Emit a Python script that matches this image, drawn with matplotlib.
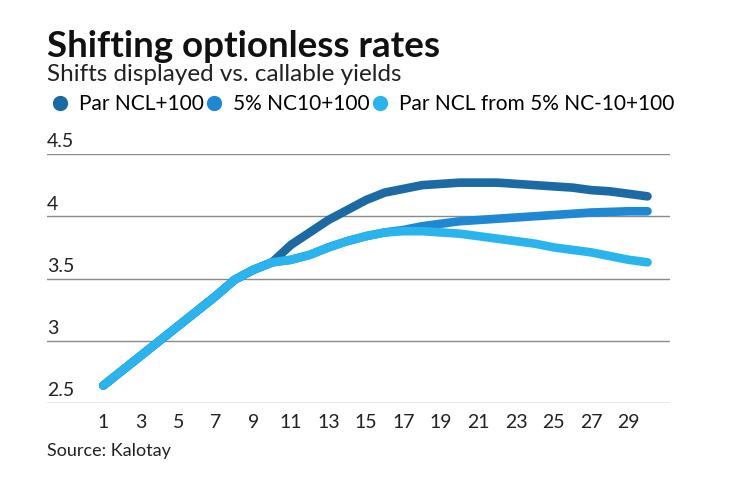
import matplotlib.pyplot as plt
from matplotlib.lines import Line2D

plt.rcParams['font.family'] = ['Lato', 'DejaVu Sans']

# Data
years = list(range(1, 31))
par_ncl = [2.64, 2.76, 2.88, 3.00, 3.12, 3.24, 3.36, 3.49, 3.57, 3.63,
           3.77, 3.87, 3.97, 4.05, 4.13, 4.19, 4.22, 4.25, 4.26, 4.27,
           4.27, 4.27, 4.26, 4.25, 4.24, 4.23, 4.21, 4.20, 4.18, 4.16]
nc10 = [2.64, 2.76, 2.88, 3.00, 3.12, 3.24, 3.36, 3.49, 3.57, 3.63,
        3.65, 3.69, 3.75, 3.80, 3.84, 3.87, 3.89, 3.92, 3.94, 3.96,
        3.97, 3.98, 3.99, 4.00, 4.01, 4.02, 4.03, 4.035, 4.04, 4.04]
par_from_nc = [2.64, 2.76, 2.88, 3.00, 3.12, 3.24, 3.36, 3.49, 3.57, 3.63,
               3.65, 3.69, 3.75, 3.80, 3.84, 3.87, 3.88, 3.88, 3.87, 3.86,
               3.84, 3.82, 3.80, 3.78, 3.75, 3.73, 3.71, 3.68, 3.65, 3.63]
series_names = ['Par NCL+100', '5% NC10+100', 'Par NCL from 5% NC-10+100']
colors = ['#1c6aa3', '#1f88d2', '#2ab4ee']
y_ticks = [2.5, 3, 3.5, 4, 4.5]
x_ticks = list(range(1, 30, 2))

fig = plt.figure(figsize=(7.4, 4.82), dpi=100)
ax = fig.add_axes([47 / 740, 79 / 482, 623 / 740, 249 / 482])

for vals, c in zip([par_ncl, nc10, par_from_nc], colors):
    ax.plot(years, vals, color=c, lw=6.2, solid_capstyle='round', solid_joinstyle='round')

ax.set_xlim(-2, 31.2)
ax.set_ylim(2.5, 4.5)
for s in ax.spines.values():
    s.set_visible(False)
ax.set_yticks([])
for yv in y_ticks:
    ax.axhline(yv, color='#8a8a8a', lw=1, zorder=0)
    ax.text(-2, yv + 0.03, f'{yv:g}', fontsize=14, va='bottom', ha='left', color='#222222')
ax.set_xticks(x_ticks)
ax.tick_params(axis='x', length=0, labelsize=14, pad=8, labelcolor='#222222')

fig.text(47 / 740, 1 - 57 / 482, 'Shifting optionless rates', fontsize=26.5, fontweight='bold', color='#111111')
fig.text(47 / 740, 1 - 81 / 482, 'Shifts displayed vs. callable yields', fontsize=17.5, color='#222222')
fig.text(47 / 740, 1 - 456 / 482, 'Source: Kalotay', fontsize=13, color='#222222')

handles = [Line2D([], [], marker='o', ls='none', color=c, markersize=10) for c in colors]
fig.legend(handles, series_names, loc='center left', bbox_to_anchor=(52 / 740, 1 - 104 / 482),
           ncol=3, frameon=False, fontsize=15, handlelength=0.8, handletextpad=0.5,
           columnspacing=0.1, borderpad=0, borderaxespad=0)

fig.savefig('out.png', dpi=100)
